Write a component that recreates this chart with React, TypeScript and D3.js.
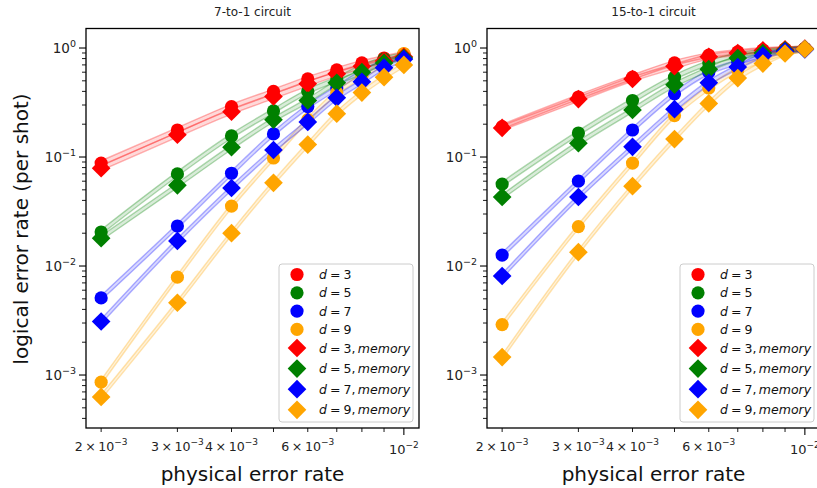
import React from "react";
import * as d3 from "d3";

const WIDTH = 817;
const HEIGHT = 488;

// physical error rates on the x axis
const physicalErrorRates = [0.002, 0.003, 0.004, 0.005, 0.006, 0.007, 0.008, 0.009, 0.01];

// 7-to-1 circuit, logical error rate per shot
const sevenD3 = [0.088, 0.177, 0.29, 0.4, 0.52, 0.63, 0.73, 0.81, 0.88];
const sevenD5 = [0.0205, 0.07, 0.156, 0.265, 0.4, 0.52, 0.67, 0.79, 0.86];
const sevenD7 = [0.0051, 0.0233, 0.071, 0.163, 0.29, 0.43, 0.6, 0.74, 0.84];
const sevenD9 = [0.00086, 0.0079, 0.0355, 0.098, 0.22, 0.39, 0.55, 0.71, 0.89];
const sevenD3Mem = [0.079, 0.16, 0.26, 0.36, 0.47, 0.58, 0.68, 0.76, 0.83];
const sevenD5Mem = [0.018, 0.055, 0.123, 0.22, 0.33, 0.48, 0.6, 0.73, 0.81];
const sevenD7Mem = [0.0031, 0.017, 0.052, 0.116, 0.21, 0.35, 0.49, 0.66, 0.79];
const sevenD9Mem = [0.00063, 0.0046, 0.02, 0.058, 0.13, 0.25, 0.39, 0.54, 0.7];

// 15-to-1 circuit
const fifteenD3 = [0.19, 0.355, 0.54, 0.73, 0.86, 0.92, 0.96, 0.98, 0.99];
const fifteenD5 = [0.0565, 0.166, 0.33, 0.54, 0.73, 0.86, 0.93, 0.97, 0.99];
const fifteenD7 = [0.0126, 0.06, 0.177, 0.38, 0.6, 0.74, 0.86, 0.94, 0.98];
const fifteenD9 = [0.0029, 0.023, 0.088, 0.24, 0.43, 0.63, 0.78, 0.9, 0.97];
const fifteenD3Mem = [0.185, 0.34, 0.52, 0.68, 0.83, 0.9, 0.95, 0.97, 0.99];
const fifteenD5Mem = [0.043, 0.134, 0.27, 0.46, 0.64, 0.81, 0.9, 0.95, 0.98];
const fifteenD7Mem = [0.0081, 0.043, 0.124, 0.275, 0.48, 0.67, 0.85, 0.93, 0.97];
const fifteenD9Mem = [0.00146, 0.0134, 0.054, 0.146, 0.31, 0.53, 0.72, 0.89, 0.98];

const distances = [3, 5, 7, 9];
const colors = ["#ff0000", "#008000", "#0000ff", "#ffa500"];
const panelTitles = ["7-to-1 circuit", "15-to-1 circuit"];
const xLabeledMantissas = [2, 3, 4, 6];

const panels = [
  { title: panelTitles[0], left: 86, circles: [sevenD3, sevenD5, sevenD7, sevenD9], diamonds: [sevenD3Mem, sevenD5Mem, sevenD7Mem, sevenD9Mem] },
  { title: panelTitles[1], left: 487, circles: [fifteenD3, fifteenD5, fifteenD7, fifteenD9], diamonds: [fifteenD3Mem, fifteenD5Mem, fifteenD7Mem, fifteenD9Mem] },
];

const TOP = 28.5;
const PW = 333;
const PH = 399.5;
const R = 6.6;
const FONT = "DejaVu Sans, sans-serif";

// matplotlib style 5% log margins on x
const lx0 = Math.log10(d3.min(physicalErrorRates));
const lx1 = Math.log10(d3.max(physicalErrorRates));
const mx = (lx1 - lx0) * 0.05;
const X_DOMAIN = [10 ** (lx0 - mx), 10 ** (lx1 + mx)];
const Y_DOMAIN = [10 ** -3.486, 10 ** 0.179];

const isPow10 = (v) => Math.abs(Math.log10(v) - Math.round(Math.log10(v))) < 1e-9;
const diamond = (h) => `M0,${-h}L${h},0L0,${h}L${-h},0Z`;

const Marker = ({ kind, color, x, y }) =>
  kind === "circle" ? (
    <circle cx={x} cy={y} r={R} fill={color} />
  ) : (
    <path d={diamond(R * Math.SQRT2)} transform={`translate(${x},${y})`} fill={color} />
  );

function Panel({ title, left, circles, diamonds, idx }) {
  const x = d3.scaleLog().domain(X_DOMAIN).range([left, left + PW]);
  const y = d3.scaleLog().domain(Y_DOMAIN).range([TOP + PH, TOP]);
  const bottom = TOP + PH;

  const band = d3
    .area()
    .x((d) => x(d[0]))
    .y0((d) => y(d[1] / 1.05))
    .y1((d) => y(d[1] * 1.05))
    .curve(d3.curveMonotoneX);

  const series = [
    ...circles.map((vals, i) => ({ kind: "circle", vals, color: colors[i], d: distances[i] })),
    ...diamonds.map((vals, i) => ({ kind: "diamond", vals, color: colors[i], d: distances[i] })),
  ];

  const xTicks = x.ticks();
  const yTicks = y.ticks();
  const lg = { x: left + 193, y: 264, w: 134, h: 158 };
  const rowY = (i) => (i < 4 ? 274.5 + i * 18.3 : 348 + (i - 4) * 20.6);

  return (
    <g>
      <defs>
        <clipPath id={`clip${idx}`}>
          <rect x={left} y={TOP} width={PW} height={PH} />
        </clipPath>
      </defs>
      <g clipPath={`url(#clip${idx})`}>
        {series.map((s, i) => (
          <path
            key={"b" + i}
            d={band(physicalErrorRates.map((p, j) => [p, s.vals[j]]))}
            fill={s.color}
            fillOpacity={0.15}
            stroke={s.color}
            strokeOpacity={0.3}
            strokeWidth={1.4}
          />
        ))}
        {series.map((s, i) =>
          physicalErrorRates.map((p, j) => (
            <Marker key={`m${i}-${j}`} kind={s.kind} color={s.color} x={x(p)} y={y(s.vals[j])} />
          ))
        )}
      </g>

      {/* frame */}
      <rect x={left} y={TOP} width={PW} height={PH} fill="none" stroke="#000" strokeWidth={1.3} />

      {/* x ticks */}
      {xTicks.map((t, i) => {
        const major = isPow10(t);
        const mant = Math.round(t / 10 ** Math.floor(Math.log10(t) + 1e-9));
        const tx = x(t);
        return (
          <g key={"xt" + i}>
            <line x1={tx} x2={tx} y1={bottom} y2={bottom + (major ? 7 : 4)} stroke="#000" strokeWidth={major ? 1.1 : 0.9} />
            {major ? (
              <text x={tx} y={454} textAnchor="middle" fontSize={13} fontFamily={FONT} fill="#222">
                10<tspan fontSize={9} dy={-6}>{`−${Math.round(-Math.log10(t))}`}</tspan>
              </text>
            ) : xLabeledMantissas.includes(mant) ? (
              <text x={tx} y={451} textAnchor="middle" fontSize={12.6} fontFamily={FONT} fill="#222">
                {`${mant}\u2009×\u200910`}
                <tspan fontSize={9} dy={-6}>{`−${-Math.floor(Math.log10(t) + 1e-9)}`}</tspan>
              </text>
            ) : null}
          </g>
        );
      })}

      {/* y ticks */}
      {yTicks.map((t, i) => {
        const major = isPow10(t);
        const ty = y(t);
        const e = Math.round(Math.log10(t));
        return (
          <g key={"yt" + i}>
            <line x1={left - (major ? 7 : 4)} x2={left} y1={ty} y2={ty} stroke="#000" strokeWidth={major ? 1.1 : 0.9} />
            {major && (
              <text x={left - 10} y={ty + 5} textAnchor="end" fontSize={13.5} fontFamily={FONT} fill="#222">
                10<tspan fontSize={9.5} dy={-6}>{e === 0 ? "0" : `−${-e}`}</tspan>
              </text>
            )}
          </g>
        );
      })}

      <text x={left + PW / 2} y={16} textAnchor="middle" fontSize={12} fontFamily={FONT} fill="#222">
        {title}
      </text>
      <text x={left + PW / 2} y={481} textAnchor="middle" fontSize={20} fontFamily={FONT} fill="#111">
        physical error rate
      </text>

      {/* legend */}
      <rect x={lg.x} y={lg.y} width={lg.w} height={lg.h} rx={3} fill="#fff" fillOpacity={0.8} stroke="#cccccc" strokeWidth={1} />
      {series.map((s, i) => (
        <g key={"lg" + i}>
          <Marker kind={s.kind} color={s.color} x={lg.x + 18} y={rowY(i)} />
          <text x={lg.x + 40} y={rowY(i) + 4.5} fontSize={12.5} fontFamily={FONT} fill="#111">
            <tspan fontStyle="italic">d</tspan>
            <tspan dx={3}>=</tspan>
            <tspan dx={3}>{s.d}</tspan>
            {s.kind === "diamond" && (
              <>
                <tspan>,</tspan>
                <tspan dx={2.5} fontStyle="italic">memory</tspan>
              </>
            )}
          </text>
        </g>
      ))}
    </g>
  );
}

export default function App() {
  return (
    <svg
      width={WIDTH}
      height={HEIGHT}
      style={{ position: "absolute", left: 0, top: 0, background: "#fff" }}
    >
      {panels.map((p, i) => (
        <Panel key={i} idx={i} {...p} />
      ))}
      <text
        transform={`translate(22,229) rotate(-90)`}
        textAnchor="middle"
        dominantBaseline="middle"
        fontSize={20}
        fontFamily={FONT}
        fill="#111"
      >
        logical error rate (per shot)
      </text>
    </svg>
  );
}
